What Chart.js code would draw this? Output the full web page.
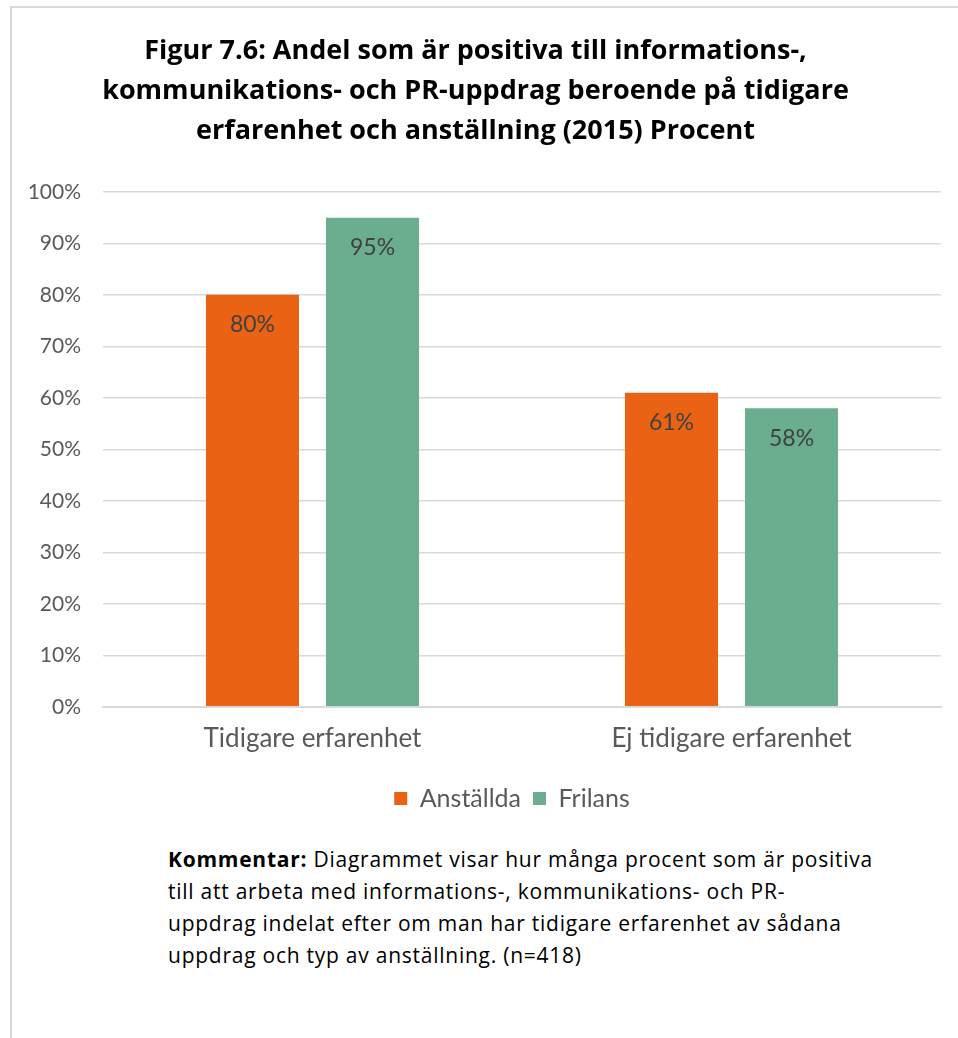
<!DOCTYPE html>
<html>
<head>
<meta charset="utf-8">
<script src="https://cdn.jsdelivr.net/npm/chart.js@4.4.1/dist/chart.umd.min.js"></script>
<style>
    html, body { margin: 0; padding: 0; background: #fff; }
    body { width: 958px; height: 1038px; position: relative; overflow: hidden; }
    .frame {
        position: absolute; left: 10px; top: 6px; width: 980px; height: 1100px;
        border-left: 2px solid #d9d9d9; border-top: 2px solid #d9d9d9;
    }
    #wrap { position: absolute; left: 0; top: 0; width: 958px; height: 825px; }
    .comment {
        position: absolute; left: 168px; top: 843px;
        font-family: "Open Sans", sans-serif; font-size: 21px; line-height: 32px;
        color: #000; letter-spacing: 0.75px;
    }
</style>
</head>
<body>
<div class="frame"></div>
<div id="wrap"><canvas id="chart" width="958" height="825"></canvas></div>
<div class="comment">
    <b>Kommentar:</b> Diagrammet visar hur många procent som är positiva<br>
    till att arbeta med informations-, kommunikations- och PR-<br>
    uppdrag indelat efter om man har tidigare erfarenhet av sådana<br>
    uppdrag och typ av anställning. (n=418)
</div>
<script>
// Chart data
const categories = ['Tidigare erfarenhet', 'Ej tidigare erfarenhet'];
const anstallda = [80, 61];
const frilans = [95, 58];
const seriesNames = ['Anställda', 'Frilans'];
const titleLines = [
    'Figur 7.6: Andel som är positiva till informations-,',
    'kommunikations- och PR-uppdrag beroende på tidigare',
    'erfarenhet och anställning (2015) Procent'
];

const textColor = '#595959';
const gridColor = '#d9d9d9';
const fontFamily = 'Lato, "Noto Sans", sans-serif';

// Draw value labels inside the top of each bar
const barLabels = {
    id: 'barLabels',
    afterDatasetsDraw(chart) {
        const ctx = chart.ctx;
        ctx.save();
        ctx.font = '23px ' + fontFamily;
        ctx.fillStyle = '#404040';
        ctx.textAlign = 'center';
        ctx.textBaseline = 'middle';
        chart.data.datasets.forEach((ds, i) => {
            chart.getDatasetMeta(i).data.forEach((bar, j) => {
                ctx.fillText(ds.data[j] + '%', bar.x, bar.y + 30);
            });
        });
        ctx.restore();
    }
};

// Center the legend under the plot area instead of the whole canvas
const legendShift = {
    id: 'legendShift',
    afterLayout(chart) {
        const lg = chart.legend;
        const plotMid = (chart.chartArea.left + chart.chartArea.right) / 2;
        const dx = plotMid - (lg.left + lg.right) / 2 - 10;
        lg.left += dx;
        lg.right += dx;
    }
};

new Chart(document.getElementById('chart'), {
    type: 'bar',
    data: {
        labels: categories,
        datasets: [
            { label: seriesNames[0], data: anstallda, backgroundColor: '#ea6315' },
            { label: seriesNames[1], data: frilans, backgroundColor: '#6aad8f' }
        ]
    },
    options: {
        responsive: false,
        animation: false,
        devicePixelRatio: 1,
        categoryPercentage: 0.573,
        barPercentage: 0.775,
        layout: { padding: { left: 10, right: 17, top: 0, bottom: 4 } },
        plugins: {
            title: {
                display: true,
                text: titleLines,
                color: '#000',
                font: { family: '"Open Sans", sans-serif', size: 27, weight: 'bold', lineHeight: 1.48 },
                padding: { top: 31, bottom: 41 }
            },
            legend: {
                position: 'bottom',
                labels: {
                    color: textColor,
                    font: { family: fontFamily, size: 25 },
                    boxWidth: 13,
                    boxHeight: 13,
                    padding: 12
                }
            },
            tooltip: { enabled: false }
        },
        scales: {
            x: {
                afterFit: s => { s.height += 12; },
                grid: { display: false },
                border: { color: gridColor, width: 2 },
                ticks: { color: textColor, font: { family: fontFamily, size: 26 }, padding: 8 }
            },
            y: {
                min: 0,
                max: 100,
                afterFit: s => { s.width = 93; },
                ticks: {
                    stepSize: 10,
                    color: textColor,
                    font: { family: fontFamily, size: 21 },
                    padding: 22,
                    callback: v => v + '%'
                },
                grid: { color: gridColor, lineWidth: 1.5, drawTicks: false },
                border: { display: false }
            }
        }
    },
    plugins: [barLabels, legendShift]
});
</script>
</body>
</html>
